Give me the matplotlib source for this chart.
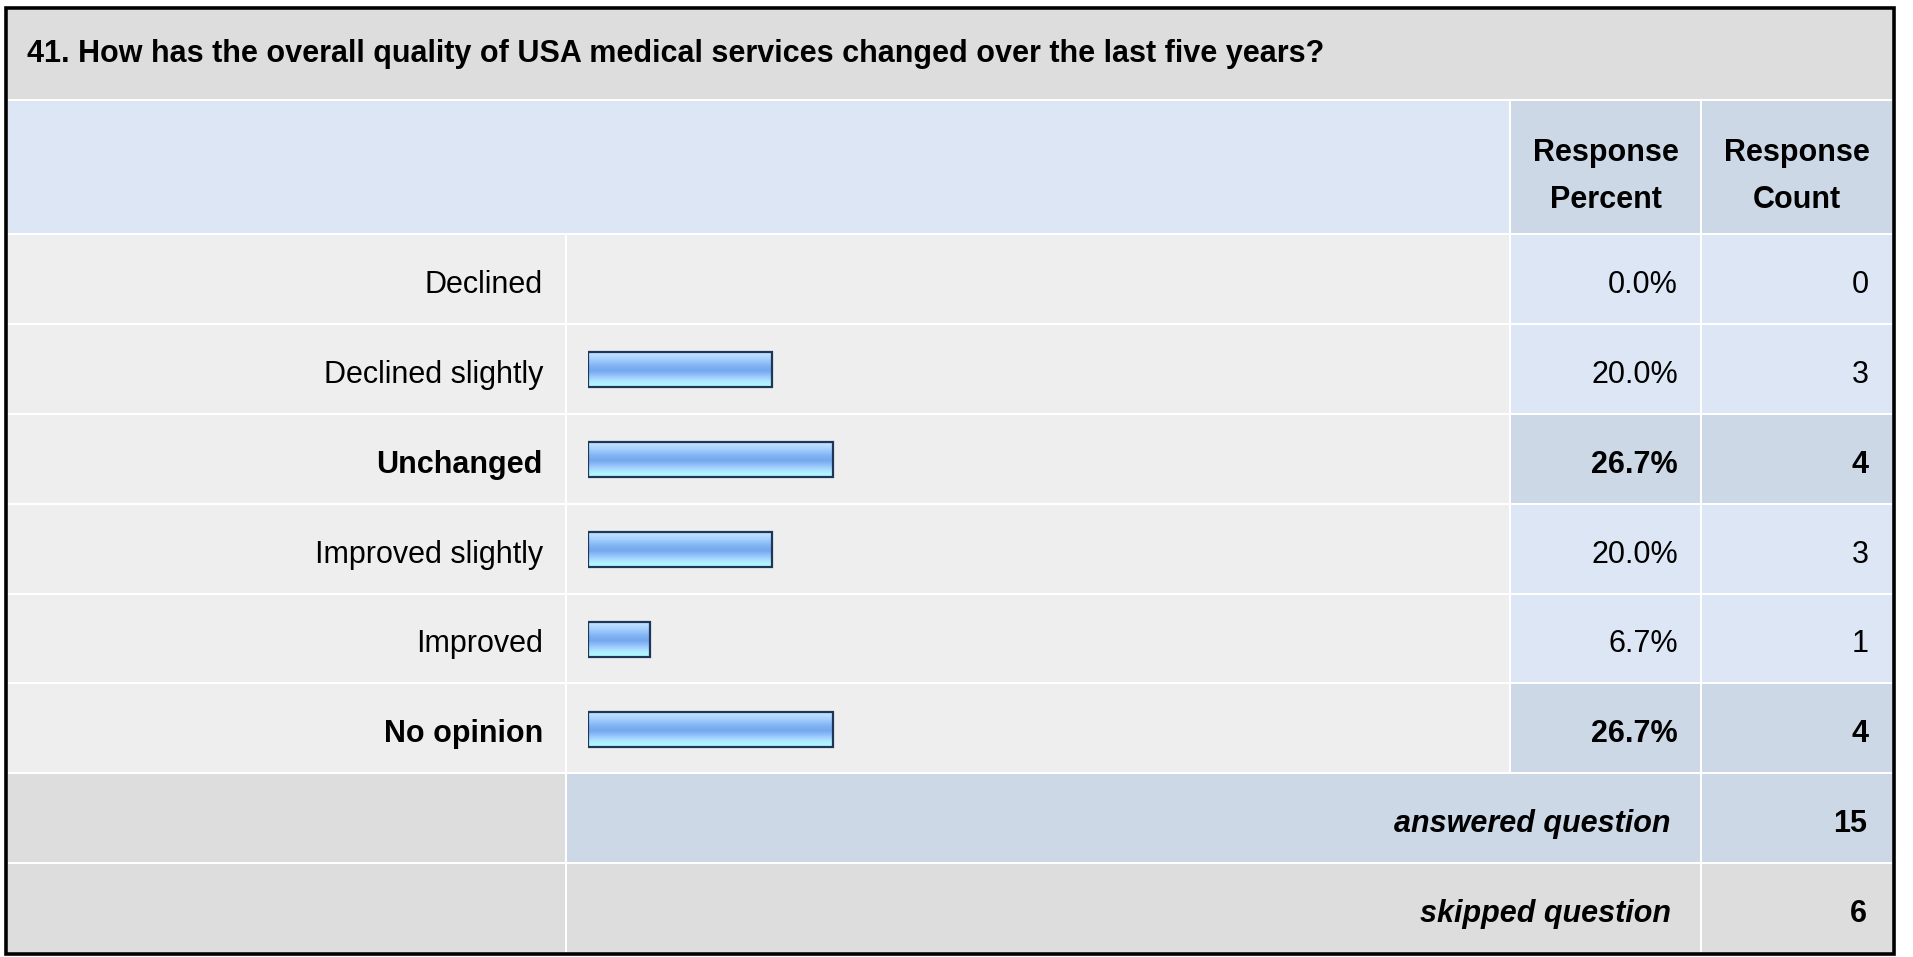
"""Survey results table (question 41) redrawn with matplotlib."""

import matplotlib
matplotlib.use("Agg")
import matplotlib.pyplot as plt
import numpy as np
from matplotlib.colors import LinearSegmentedColormap
from matplotlib.patches import Rectangle

plt.rcParams["font.family"] = ["Liberation Sans", "DejaVu Sans"]

TITLE = "41. How has the overall quality of USA medical services changed over the last five years?"
CHOICES = ["Declined", "Declined slightly", "Unchanged", "Improved slightly", "Improved", "No opinion"]
PERCENTS = [0.0, 20.0, 26.7, 20.0, 6.7, 26.7]
COUNTS = [0, 3, 4, 3, 1, 4]
ANSWERED = 15
SKIPPED = 6

W, H = 1913, 957
FS = 22

GRAY = "#DDDDDD"
LIGHT = "#EEEEEE"
BLUE = "#DCE6F4"
STEEL = "#CCD8E6"

fig = plt.figure(figsize=(W / 100, H / 100), dpi=100)
fig.patch.set_facecolor("white")
ax = fig.add_axes([0, 0, 1, 1])
ax.set_xlim(0, W)
ax.set_ylim(H, 0)
ax.axis("off")

# column / row edges in pixels
cols = [7, 566, 1510, 1701, 1893]
rows = np.linspace(234, 953, len(CHOICES) + 3)


def cell(x0, x1, y0, y1, color):
    ax.add_patch(Rectangle((x0 + 1, y0 + 1), x1 - x0 - 2, y1 - y0 - 2,
                           facecolor=color, edgecolor="none"))


# title band
cell(cols[0], cols[-1], 9, 100, GRAY)
ax.text(27, 62, TITLE, fontsize=FS, fontweight="bold", ha="left", va="baseline")

# header
cell(cols[0], cols[2], 100, rows[0], BLUE)
cell(cols[2], cols[3], 100, rows[0], STEEL)
cell(cols[3], cols[4], 100, rows[0], STEEL)
for c0, c1, word in [(cols[2], cols[3], "Percent"), (cols[3], cols[4], "Count")]:
    xc = (c0 + c1) / 2
    ax.text(xc, 161, "Response", fontsize=FS, fontweight="bold", ha="center", va="baseline")
    ax.text(xc, 208, word, fontsize=FS, fontweight="bold", ha="center", va="baseline")

# answer rows
top = max(PERCENTS)
for i, (name, pct, cnt) in enumerate(zip(CHOICES, PERCENTS, COUNTS)):
    y0, y1 = rows[i], rows[i + 1]
    yb = (y0 + y1) / 2 + 14
    hi = pct == top
    weight = "bold" if hi else "normal"
    cell(cols[0], cols[1], y0, y1, LIGHT)
    cell(cols[1], cols[2], y0, y1, LIGHT)
    cell(cols[2], cols[3], y0, y1, STEEL if hi else BLUE)
    cell(cols[3], cols[4], y0, y1, STEEL if hi else BLUE)
    ax.text(cols[1] - 23, yb, name, fontsize=FS, fontweight=weight, ha="right", va="baseline")
    ax.text(cols[3] - 23, yb, f"{pct:.1f}%", fontsize=FS, fontweight=weight, ha="right", va="baseline")
    ax.text(cols[4] - 24, yb, str(cnt), fontsize=FS, fontweight=weight, ha="right", va="baseline")

# footer rows
n = len(CHOICES)
y0, y1 = rows[n], rows[n + 1]
cell(cols[0], cols[1], y0, y1, GRAY)
cell(cols[1], cols[3], y0, y1, STEEL)
cell(cols[3], cols[4], y0, y1, STEEL)
ax.text(cols[3] - 30, (y0 + y1) / 2 + 14, "answered question", fontsize=FS,
        fontweight="bold", style="italic", ha="right", va="baseline")
ax.text(cols[4] - 26, (y0 + y1) / 2 + 14, str(ANSWERED), fontsize=FS,
        fontweight="bold", ha="right", va="baseline")
y0, y1 = rows[n + 1], rows[n + 2]
cell(cols[0], cols[1], y0, y1, GRAY)
cell(cols[1], cols[3], y0, y1, GRAY)
cell(cols[3], cols[4], y0, y1, GRAY)
ax.text(cols[3] - 30, (y0 + y1) / 2 + 14, "skipped question", fontsize=FS,
        fontweight="bold", style="italic", ha="right", va="baseline")
ax.text(cols[4] - 26, (y0 + y1) / 2 + 14, str(SKIPPED), fontsize=FS,
        fontweight="bold", ha="right", va="baseline")

# outer frame
ax.add_patch(Rectangle((6, 8), 1888, 946, facecolor="none", edgecolor="black", linewidth=2.6))

# bar panel: 0..100 % over the answer rows
bx0, bx1 = 588, 1506
bax = fig.add_axes([bx0 / W, 1 - rows[n] / H, (bx1 - bx0) / W, (rows[n] - rows[0]) / H])
bax.axis("off")
grad = LinearSegmentedColormap.from_list("bar", [
    (0.0, "#CFE8FF"), (0.2, "#A8D2FF"), (0.42, "#7FB2F2"), (0.55, "#74A8EE"),
    (0.72, "#9ECBFF"), (0.85, "#AEEAFF"), (1.0, "#B4FFFF")])
g = np.linspace(0, 1, 64).reshape(-1, 1)
bh = 0.39
for i, pct in enumerate(PERCENTS):
    if pct <= 0:
        continue
    yc = i + 0.51
    bax.imshow(g, cmap=grad, aspect="auto", origin="upper", interpolation="bilinear",
               extent=(0, pct, yc + bh / 2, yc - bh / 2))
    bax.add_patch(Rectangle((0, yc - bh / 2), pct, bh, facecolor="none",
                            edgecolor="#1E3658", linewidth=1.6))
bax.set_xlim(0, 100)
bax.set_ylim(n, 0)

fig.savefig("out.png", dpi=100)
